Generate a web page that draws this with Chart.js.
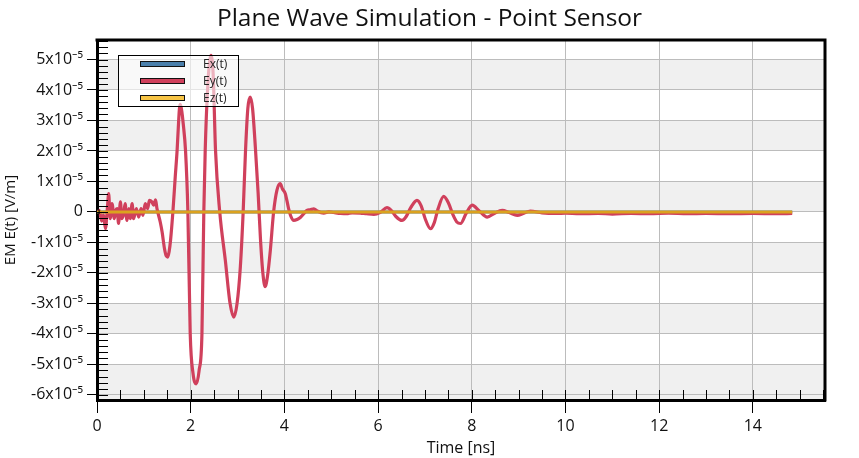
<!DOCTYPE html>
<html><head><meta charset="utf-8">
<script src="https://cdn.jsdelivr.net/npm/chart.js@4"></script>
<style>html,body{margin:0;padding:0;background:#fff;}canvas{display:block}</style>
</head><body>
<canvas id="c" width="859" height="458"></canvas>
<script>
// ---- data (time in ns, field in units of 1e-5 V/m) ----
const timeNs = [0.00,0.05,0.10,0.14,0.18,0.22,0.25,0.28,0.32,0.37,0.40,0.43,0.46,0.50,0.53,0.57,0.60,0.64,0.68,0.71,0.75,0.78,0.84,0.89,0.94,0.98,1.03,1.08,1.12,1.17,1.21,1.25,1.28,1.35,1.39,1.44,1.48,1.51,1.54,1.57,1.62,1.67,1.71,1.74,1.76,1.78,1.81,1.84,1.89,1.94,1.99,2.05,2.12,2.18,2.24,2.28,2.31,2.36,2.43,2.48,2.53,2.62,2.74,2.84,2.92,2.99,3.06,3.12,3.17,3.22,3.27,3.32,3.38,3.44,3.49,3.54,3.59,3.64,3.70,3.77,3.84,3.91,3.96,4.02,4.09,4.14,4.20,4.27,4.34,4.42,4.48,4.55,4.63,4.70,4.84,4.95,5.05,5.20,5.33,5.45,5.62,5.75,5.91,6.05,6.19,6.28,6.38,6.51,6.60,6.70,6.83,6.92,7.00,7.12,7.20,7.28,7.40,7.50,7.60,7.68,7.76,7.88,8.01,8.15,8.33,8.48,8.65,8.80,8.97,9.10,9.25,9.50,9.80,10.00,10.30,10.70,11.00,11.40,11.80,12.20,12.60,13.00,13.50,14.00,14.50,14.84];
const eyField = [0.00,0.05,-0.30,-0.10,-0.55,0.10,0.60,-0.22,0.27,-0.22,0.05,0.11,-0.38,0.33,-0.22,-0.06,0.27,-0.28,0.11,-0.22,0.27,-0.22,0.11,-0.17,0.11,-0.11,0.27,0.11,0.38,0.33,0.22,0.40,0.11,-0.33,-0.66,-1.20,-1.45,-1.48,-1.30,-0.93,0.00,1.15,2.02,2.90,3.40,3.53,3.30,2.90,2.00,0.00,-4.00,-5.30,-5.64,-5.20,-4.00,0.00,2.02,4.00,5.14,4.50,2.02,0.00,-1.60,-3.00,-3.45,-3.00,-1.80,0.00,2.00,3.40,3.77,3.40,2.13,0.60,-0.90,-2.00,-2.45,-2.10,-1.26,0.00,0.71,0.93,0.75,0.60,0.11,-0.15,-0.28,-0.25,-0.18,-0.05,0.05,0.07,0.10,0.03,-0.04,0.00,-0.02,-0.05,-0.06,-0.03,-0.04,-0.06,-0.08,-0.01,0.14,0.05,-0.15,-0.28,-0.15,0.15,0.38,0.20,-0.20,-0.55,-0.35,0.10,0.51,0.30,-0.10,-0.33,-0.38,-0.05,0.22,0.05,-0.17,-0.05,0.05,-0.02,-0.11,-0.05,0.03,-0.03,-0.05,-0.04,-0.06,-0.05,-0.07,-0.05,-0.06,-0.04,-0.06,-0.05,-0.06,-0.05,-0.06,-0.05];
const flatTimeNs = [0, 14.84];
const exField = [0, 0];
const ezField = [0, 0];
const seriesLabels = ['Ex(t)', 'Ey(t)', 'Ez(t)'];
const xTicks = [0, 2, 4, 6, 8, 10, 12, 14];
const yTicks = [-6, -5, -4, -3, -2, -1, 0, 1, 2, 3, 4, 5];
const xRange = [0, 15.54];
const yRange = [-6.17, 5.64];

const FONT = "'Open Sans', 'Noto Sans', sans-serif";
const pts = (xs, ys) => xs.map((x, i) => ({x, y: ys[i]}));

const bgPlugin = {
  id: 'bgBands',
  beforeDraw(chart) {
    const {ctx, chartArea: a, scales: {y}} = chart;
    ctx.save();
    ctx.fillStyle = '#fff';
    ctx.fillRect(0, 0, chart.width, chart.height);
    ctx.fillStyle = '#f0f0f0';
    for (let k = Math.floor(y.min); k < y.max; k++) {
      if (k % 2 === 0 || k < yTicks[0]) {
        const lo = Math.max(k, y.min), hi = Math.min(k + 1, y.max);
        const p1 = y.getPixelForValue(hi), p2 = y.getPixelForValue(lo);
        ctx.fillRect(a.left, p1, a.right - a.left, p2 - p1);
      }
    }
    ctx.restore();
  }
};

const framePlugin = {
  id: 'frame',
  afterDatasetsDraw(chart) {
    const {ctx, chartArea: a, scales: {x, y}} = chart;
    ctx.save();
    // legend
    const lx = a.left + 21, ly = a.top + 15, lw = 120, lh = 51;
    ctx.fillStyle = 'rgba(255,255,255,0.6)';
    ctx.fillRect(lx, ly, lw, lh);
    ctx.strokeStyle = '#000';
    ctx.lineWidth = 1;
    ctx.strokeRect(lx + 0.5, ly + 0.5, lw, lh);
    ctx.font = '12px ' + FONT;
    ctx.textBaseline = 'middle';
    chart.data.datasets.forEach((ds, i) => {
      const cy = Math.round(ly + 9 + i * 17);
      ctx.fillStyle = ds.swatchColor;
      ctx.fillRect(lx + 22, cy - 2, 44, 5);
      ctx.strokeStyle = '#111';
      ctx.strokeRect(lx + 22.5, cy - 2.5, 44, 5);
      ctx.fillStyle = '#222';
      ctx.fillText(ds.label, lx + 85, cy + 0.5);
    });
    // minor ticks
    ctx.strokeStyle = '#000';
    ctx.lineWidth = 1;
    ctx.beginPath();
    for (let v = Math.ceil(y.min * 5) / 5; v <= y.max; v += 0.2) {
      const py = Math.round(y.getPixelForValue(v)) + 0.5;
      ctx.moveTo(a.left, py); ctx.lineTo(a.left + 11, py);
    }
    for (let v = 0.5; v <= x.max; v += 0.5) {
      const px = Math.round(x.getPixelForValue(v)) + 0.5;
      ctx.moveTo(px, a.bottom); ctx.lineTo(px, a.bottom - 10);
    }
    ctx.stroke();
    // top / right frame
    ctx.lineWidth = 3;
    ctx.beginPath();
    ctx.moveTo(a.left - 1.5, a.top); ctx.lineTo(a.right, a.top); ctx.lineTo(a.right, a.bottom + 1.5);
    ctx.stroke();
    ctx.restore();
  }
};

new Chart(document.getElementById('c'), {
  type: 'line',
  data: {
    datasets: [
      {label: seriesLabels[0], data: pts(flatTimeNs, exField), borderColor: '#4a7fab', swatchColor: '#4a7fab', borderWidth: 3, pointRadius: 0, order: 2},
      {label: seriesLabels[1], data: pts(timeNs, eyField), borderColor: '#d0405c', swatchColor: '#d0405c', borderWidth: 3.2, pointRadius: 0, cubicInterpolationMode: 'monotone', order: 1},
      {label: seriesLabels[2], data: pts(flatTimeNs, ezField), borderColor: '#dba21f', swatchColor: '#f7c445', borderWidth: 3,
        pointStyle: 'rect', pointRadius: c => c.dataIndex === 0 ? 3 : 0, pointBorderColor: '#000', pointBackgroundColor: 'rgba(0,0,0,0)', pointBorderWidth: 1, order: 0}
    ]
  },
  options: {
    responsive: false,
    animation: false,
    devicePixelRatio: 1,
    layout: {padding: 0},
    plugins: {
      legend: {display: false},
      tooltip: {enabled: false},
      title: {display: true, text: 'Plane Wave Simulation - Point Sensor', color: '#111',
        font: {family: FONT, size: 24.5, weight: 'normal'}, padding: {top: 4, bottom: 6.6}}
    },
    scales: {
      x: {
        type: 'linear', min: xRange[0], max: xRange[1],
        afterBuildTicks: s => { s.ticks = xTicks.map(v => ({value: v})); },
        afterFit: s => { s.height = 58; },
        grid: {color: '#bcbcbc', lineWidth: 1, tickColor: '#000', tickLength: 13, drawTicks: true},
        border: {color: '#000', width: 3},
        ticks: {color: '#111', font: {family: FONT, size: 16}, padding: 4, maxRotation: 0},
        title: {display: true, text: 'Time [ns]', color: '#111', font: {family: FONT, size: 16}, padding: {top: 0, bottom: 0}}
      },
      y: {
        type: 'linear', min: yRange[0], max: yRange[1],
        afterBuildTicks: s => { s.ticks = yTicks.map(v => ({value: v})); },
        afterFit: s => { s.width = 97; },
        grid: {color: '#bcbcbc', lineWidth: 1, tickColor: '#000', tickLength: 10, drawTicks: true},
        border: {color: '#000', width: 3},
        ticks: {color: '#111', font: {family: FONT, size: 16}, padding: 4,
          callback: v => v === 0 ? '0' : v + 'x10\u207B\u2075'},
        title: {display: true, text: 'EM E(t) [V/m]', color: '#111', font: {family: FONT, size: 15}, padding: {top: 2, bottom: 0}}
      },
      rightMargin: {
        type: 'linear', position: 'right', display: true,
        afterFit: s => { s.width = 34; },
        grid: {display: false, drawTicks: false}, border: {display: false},
        ticks: {display: false}, title: {display: false}
      }
    }
  },
  plugins: [bgPlugin, framePlugin]
});
</script>
</body></html>
